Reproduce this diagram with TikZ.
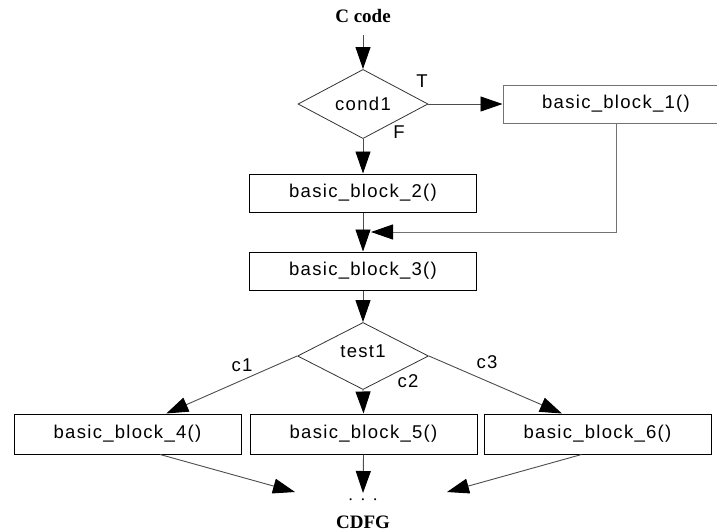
\documentclass[tikz,border=0pt]{standalone}
\usepackage{fontspec}
\setmainfont{Liberation Sans}
\newfontfamily\serifb{Liberation Serif}
\usetikzlibrary{arrows.meta,shapes.geometric,calc}
\begin{document}
\begin{tikzpicture}[x=1pt,y=-1pt,
  font=\fontsize{18.5}{21}\selectfont\addfontfeature{LetterSpace=7},
  blk/.style={draw=black,line width=1pt,rectangle,minimum width=227pt,minimum height=39pt,inner sep=0pt},
  dec/.style={draw=black!80,line width=0.8pt,diamond,minimum width=130pt,minimum height=62pt,inner sep=0pt},
  conn/.style={draw=black!70,line width=0.9pt,-{Triangle[length=22pt,width=15pt,color=black,fill=black]}},
  lbl/.style={inner sep=0pt},
  ttl/.style={inner sep=0pt,font=\serifb\bfseries\fontsize{19}{22}\selectfont}]
\useasboundingbox (0,0) rectangle (717,531);
\clip (0,0) rectangle (717,531);

\node[ttl] (code) at (363,16) {C code};
\coordinate (cs) at (363,35);
\node[dec] (cond) at (363,104) {cond1};
\node[blk,draw=black!55,minimum width=226pt,minimum height=38pt] (b1) at (616,104) {basic\_block\_1()};
\node[blk,minimum height=38pt] (b2) at (363,193) {basic\_block\_2()};
\node[blk,minimum height=38pt] (b3) at (363,271) {basic\_block\_3()};
\node[dec,minimum width=131pt,minimum height=64pt] (test) at (363,356) {\raisebox{9pt}{test1}};
\node[blk,minimum height=40pt] (b4) at (127.5,434) {basic\_block\_4()};
\node[blk,minimum height=40pt] (b5) at (363.5,434) {basic\_block\_5()};
\node[blk,minimum height=40pt] (b6) at (597.5,434) {basic\_block\_6()};
\node[lbl,font=\serifb\fontsize{17}{20}\selectfont] (dots) at (363,500) {.\hspace{8pt}.\hspace{8pt}.};
\node[ttl] (cdfg) at (363,522) {CDFG};

\node[lbl] (tT) at (422,81) {T};
\node[lbl] (tF) at (399,132) {F};
\node[lbl] (c1) at (242,365) {c1};
\node[lbl] (c2) at (408,381) {c2};
\node[lbl] (c3) at (487,362) {c3};

\coordinate (j) at (371,232);
\coordinate (e4) at (295,492);
\coordinate (e5) at (363,493);
\coordinate (e6) at (447,492);

\draw[conn] (cs) -- (cond.north);
\draw[conn] (cond.east) -- (b1.west);
\draw[conn] (cond.south) -- (b2.north);
\draw[conn] (b2.south) -- (b3.north);
\draw[conn,draw=black!55] (b1.south) |- (j);
\draw[conn] (b3.south) -- (test.north);
\draw[conn] (test.west) -- ($(b4.north west)!0.67!(b4.north east)$);
\draw[conn] (test.south) -- (b5.north);
\draw[conn] (test.east) -- ($(b6.north west)!0.344!(b6.north east)$);
\draw[conn] ($(b4.south west)!0.643!(b4.south east)$) -- (e4);
\draw[conn] (b5.south) -- (e5);
\draw[conn] ($(b6.south west)!0.43!(b6.south east)$) -- (e6);
\end{tikzpicture}
\end{document}
